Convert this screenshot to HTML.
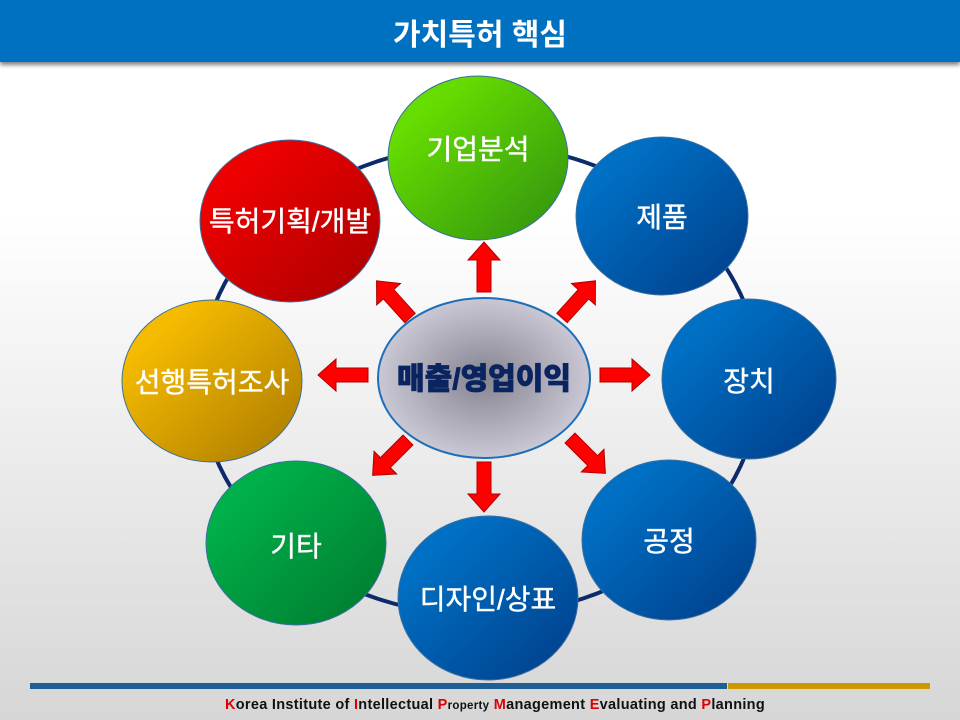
<!DOCTYPE html>
<html><head><meta charset="utf-8"><style>
html,body{margin:0;padding:0;width:960px;height:720px;overflow:hidden}
body{background:linear-gradient(#ffffff 0%,#ffffff 30%,#d6d6d6 100%);font-family:"Liberation Sans","Noto Sans CJK KR",sans-serif}
</style></head><body>
<svg width="960" height="720" viewBox="0 0 960 720" xmlns="http://www.w3.org/2000/svg" style="position:absolute;left:0;top:0">
<defs>
<filter id="sh" x="-10%" y="-10%" width="120%" height="140%"><feGaussianBlur in="SourceAlpha" stdDeviation="2"/><feOffset dy="3"/><feComponentTransfer><feFuncA type="linear" slope="0.5"/></feComponentTransfer><feMerge><feMergeNode/><feMergeNode in="SourceGraphic"/></feMerge></filter>
<linearGradient id="gG" x1="0" y1="0" x2="1" y2="1"><stop offset="0.2" stop-color="#66dd00"/><stop offset="1" stop-color="#2e8f10"/></linearGradient>
<linearGradient id="gB" x1="0" y1="0" x2="1" y2="1"><stop offset="0.2" stop-color="#0070c4"/><stop offset="1" stop-color="#003c88"/></linearGradient>
<linearGradient id="gR" x1="0" y1="0" x2="1" y2="1"><stop offset="0.2" stop-color="#ee0000"/><stop offset="1" stop-color="#a80000"/></linearGradient>
<linearGradient id="gY" x1="0" y1="0" x2="1" y2="1"><stop offset="0.2" stop-color="#f5bb00"/><stop offset="1" stop-color="#a87800"/></linearGradient>
<linearGradient id="gN" x1="0" y1="0" x2="1" y2="1"><stop offset="0.2" stop-color="#00b04a"/><stop offset="1" stop-color="#00782e"/></linearGradient>
<radialGradient id="gC" cx="0.5" cy="0.5" r="0.5"><stop offset="0" stop-color="#85838f"/><stop offset="1" stop-color="#c9c8d4"/></radialGradient>
<polygon id="arr" points="-7,0 -7,-32 -16,-32 0,-50 16,-32 7,-32 7,0" fill="#ff0000" stroke="#b00000" stroke-width="1"/>
</defs>
<rect x="0" y="0" width="960" height="62" fill="#0070c0" filter="url(#sh)"/>
<text x="480" y="45" text-anchor="middle" font-size="30" font-weight="bold" fill="#fff">가치특허 핵심</text>
<ellipse cx="480" cy="380" rx="280" ry="235" fill="none" stroke="#0d2a6a" stroke-width="4"/>
<g stroke="#3a6fa0" stroke-width="1">
<ellipse cx="478" cy="158" rx="90" ry="82" fill="url(#gG)"/>
<ellipse cx="662" cy="216" rx="86" ry="79" fill="url(#gB)"/>
<ellipse cx="749" cy="379" rx="87" ry="80" fill="url(#gB)"/>
<ellipse cx="669" cy="540" rx="87" ry="80" fill="url(#gB)"/>
<ellipse cx="488" cy="598" rx="90" ry="82" fill="url(#gB)"/>
<ellipse cx="296" cy="543" rx="90" ry="82" fill="url(#gN)"/>
<ellipse cx="212" cy="381" rx="90" ry="81" fill="url(#gY)"/>
<ellipse cx="290" cy="221" rx="90" ry="81" fill="url(#gR)"/>
</g>
<g font-size="28" fill="#fff" text-anchor="middle" stroke="#fff" stroke-width="0.4">
<text x="478" y="159">기업분석</text>
<text x="662" y="227">제품</text>
<text x="749" y="391">장치</text>
<text x="669" y="551">공정</text>
<text x="488" y="609">디자인/상표</text>
<text x="296" y="556">기타</text>
<text x="212" y="392">선행특허조사</text>
<text x="290" y="231">특허기획/개발</text>
</g>
<use href="#arr" transform="translate(484,292)"/>
<use href="#arr" transform="translate(484,462) rotate(180)"/>
<use href="#arr" transform="translate(368,375) rotate(-90)"/>
<use href="#arr" transform="translate(600,375) rotate(90)"/>
<use href="#arr" transform="translate(410,318) rotate(-42)"/>
<use href="#arr" transform="translate(562,318) rotate(42)"/>
<use href="#arr" transform="translate(408,440) rotate(-135)"/>
<use href="#arr" transform="translate(570,438) rotate(135)"/>
<ellipse cx="484" cy="378" rx="106" ry="80" fill="url(#gC)" stroke="#1f6fb8" stroke-width="2"/>
<text x="484" y="389" text-anchor="middle" font-size="30" font-weight="900" fill="#0a2460" stroke="#0a2460" stroke-width="0.8">매출/영업이익</text>
<rect x="30" y="683" width="697" height="6" fill="#1f5f94"/>
<rect x="728" y="683" width="202" height="6" fill="#cc9900"/>
<text x="495" y="709" text-anchor="middle" font-size="14.5" font-weight="bold" fill="#111" letter-spacing="0.3"><tspan fill="#e00000">K</tspan>orea Institute of <tspan fill="#e00000">I</tspan>ntellectual <tspan fill="#e00000">P</tspan><tspan font-size="11.5">roperty</tspan> <tspan fill="#e00000">M</tspan>anagement <tspan fill="#e00000">E</tspan>valuating and <tspan fill="#e00000">P</tspan>lanning</text>
</svg>
</body></html>
